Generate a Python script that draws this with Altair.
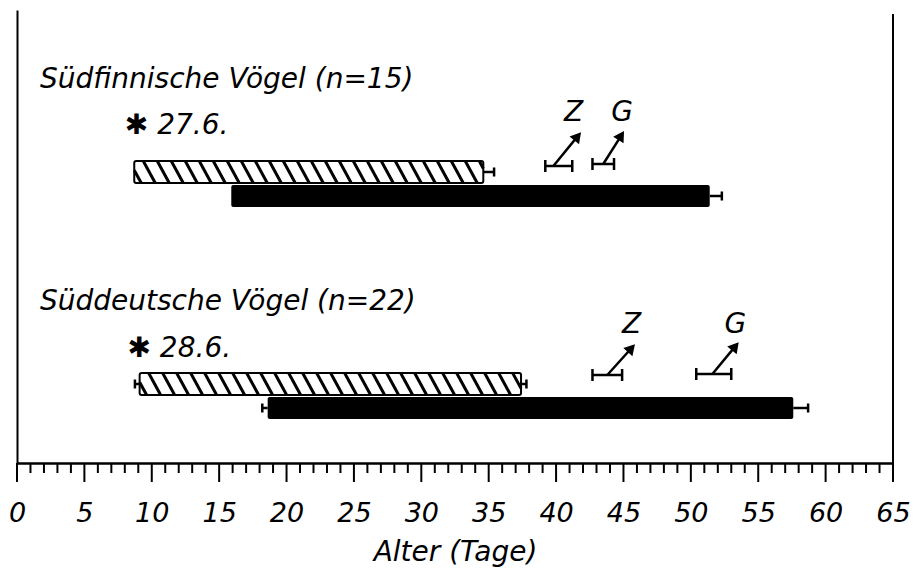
import math
import altair as alt
import pandas as pd
import numpy as np

# ---------------- data ----------------
group_titles = ["Südfinnische  Vögel (n=15)", "Süddeutsche  Vögel (n=22)"]
hatch_dates = ["✱ 27.6.", "✱ 28.6."]

hatch_start = [8.7, 9.1]
hatch_end = [34.6, 37.4]
hatch_err_lo = [8.7, 8.75]
hatch_err_hi = [35.4, 37.8]

black_start = [15.9, 18.6]
black_end = [51.4, 57.6]
black_err_lo = [15.9, 18.2]
black_err_hi = [52.3, 58.7]

z_lo = [39.2, 42.7]
z_hi = [41.2, 44.9]
g_lo = [42.7, 50.4]
g_hi = [44.3, 53.0]
z_base = [39.8, 43.8]
z_tip = [41.8, 45.8]
g_base = [43.5, 51.6]
g_tip = [45.0, 53.5]

# vertical rows (top = 0)
title_row = [7.0, 29.2]
date_row = [11.6, 33.9]
letter_row = [10.3, 31.5]
z_row = [15.6, 36.5]
g_row = [15.4, 36.4]
z_tip_row = [12.3, 33.5]
g_tip_row = [12.2, 33.3]
hatch_top = [15.1, 36.3]
hatch_bot = [17.3, 38.5]
black_top = [17.5, 38.7]
black_bot = [19.7, 40.9]

major_ticks = list(range(0, 66, 5))
all_ticks = list(range(0, 66))

W, H = 876, 453
XMAX, YMAX = 65, 45.3
PX_X = W / XMAX
PX_Y = H / YMAX

FONT = "DejaVu Sans"

xs = alt.Scale(domain=[0, XMAX], nice=False, zero=False)
ys = alt.Scale(domain=[0, YMAX], reverse=True, nice=False, zero=False)

xaxis = alt.Axis(
    values=major_ticks,
    labelOverlap=False,
    ticks=False,
    domainWidth=2.5, domainColor="black",
    labelFont=FONT, labelFontSize=27, labelFontStyle="italic", labelColor="black",
    labelPadding=37, labelFlush=False,
    title="Alter (Tage)", titleFont=FONT, titleFontSize=28, titleFontStyle="italic",
    titleFontWeight="normal", titleColor="black", titlePadding=12,
    grid=False,
)
yaxis = alt.Axis(domain=True, domainWidth=2, domainColor="black", ticks=False,
                 labels=False, title=None, grid=False)


def X(f):
    return alt.X(f, type="quantitative", scale=xs, axis=xaxis)


def Y(f):
    return alt.Y(f, type="quantitative", scale=ys, axis=yaxis)


# ---------------- tables ----------------
bars = pd.DataFrame({
    "x0": black_start, "x1": black_end, "y0": black_top, "y1": black_bot
})
hbars = pd.DataFrame({
    "x0": hatch_start, "x1": hatch_end, "y0": hatch_top, "y1": hatch_bot
})

# hatch lines (decoration inside the hatched bars)
hatch_rows = []
spacing = 14 / PX_X
for i in range(2):
    x0, x1 = hatch_start[i], hatch_end[i]
    yt, yb = hatch_top[i], hatch_bot[i]
    slant = 12 / PX_X
    xt = x0 - slant + spacing * 0.5
    while xt < x1:
        t0 = max(0.0, (x0 - xt) / slant)
        t1 = min(1.0, (x1 - xt) / slant)
        if t1 > t0:
            hatch_rows.append({
                "x": xt + slant * t0, "x2": xt + slant * t1,
                "y": yt + (yb - yt) * t0, "y2": yt + (yb - yt) * t1,
            })
        xt += spacing
hatch = pd.DataFrame(hatch_rows)

# horizontal error lines and caps
seg_rows = []
cap_rows = []
for i in range(2):
    ym_h = (hatch_top[i] + hatch_bot[i]) / 2
    ym_b = (black_top[i] + black_bot[i]) / 2
    for lo, hi, ym, edge_lo, edge_hi in [
        (hatch_err_lo[i], hatch_err_hi[i], ym_h, hatch_start[i], hatch_end[i]),
        (black_err_lo[i], black_err_hi[i], ym_b, black_start[i], black_end[i]),
    ]:
        if hi > edge_hi:
            seg_rows.append({"x": edge_hi, "x2": hi, "y": ym, "y2": ym})
            cap_rows.append({"x": hi, "y": ym - 0.45, "y2": ym + 0.45})
        if lo < edge_lo:
            seg_rows.append({"x": lo, "x2": edge_lo, "y": ym, "y2": ym})
            cap_rows.append({"x": lo, "y": ym - 0.45, "y2": ym + 0.45})
    for lo, hi, ym in [(z_lo[i], z_hi[i], z_row[i]), (g_lo[i], g_hi[i], g_row[i])]:
        seg_rows.append({"x": lo, "x2": hi, "y": ym, "y2": ym})
        cap_rows.append({"x": lo, "y": ym - 0.6, "y2": ym + 0.6})
        cap_rows.append({"x": hi, "y": ym - 0.6, "y2": ym + 0.6})
segs = pd.DataFrame(seg_rows)
caps = pd.DataFrame(cap_rows)

# arrows
arrow_rows = []
head_rows = []
for i in range(2):
    for bx, by, tx, ty in [
        (z_base[i], z_row[i], z_tip[i], z_tip_row[i]),
        (g_base[i], g_row[i], g_tip[i], g_tip_row[i]),
    ]:
        dx = (tx - bx) * PX_X
        dy = (by - ty) * PX_Y
        dist = math.hypot(dx, dy)
        ang = math.degrees(math.atan2(dx, dy))
        back = 6.0
        hx = tx - dx / dist * back / PX_X
        hy = ty + dy / dist * back / PX_Y
        arrow_rows.append({"x": bx, "x2": hx, "y": by, "y2": hy})
        head_rows.append({"x": hx, "y": hy, "angle": ang})
arrows = pd.DataFrame(arrow_rows)
heads = pd.DataFrame(head_rows)

texts = pd.DataFrame({
    "x": [1.7, 1.7, 8.0, 8.2, z_tip[0] - 0.5, g_tip[0] - 0.1, z_tip[1] - 0.2, g_tip[1] - 0.2],
    "y": title_row + date_row + [letter_row[0], letter_row[0], letter_row[1], letter_row[1]],
    "t": group_titles + hatch_dates + ["Z", "G", "Z", "G"],
    "align": ["left", "left", "left", "left", "center", "center", "center", "center"],
})

right_line = pd.DataFrame({"x": [XMAX], "y": [0.4], "y2": [YMAX]})

# axis ticks: long (19 px) every 5 days, short (10 px) every day
tick_len = [19 if v % 5 == 0 else 10 for v in all_ticks]
ticks = pd.DataFrame({"x": all_ticks, "y": [YMAX] * len(all_ticks),
                      "y2": [YMAX + t / PX_Y for t in tick_len]})

# ---------------- layers ----------------
base_black = alt.Chart(bars).mark_rect(color="black", cornerRadius=2).encode(
    x=X("x0"), x2="x1", y=Y("y0"), y2="y1",
)
hatch_fill = alt.Chart(hbars).mark_rect(fill="white").encode(
    x=X("x0"), x2="x1", y=Y("y0"), y2="y1",
)
hatch_lines = alt.Chart(hatch).mark_rule(color="black", strokeWidth=3, strokeCap="butt").encode(
    x=X("x"), x2="x2", y=Y("y"), y2="y2",
)
hatch_border = alt.Chart(hbars).mark_rect(fill=None, stroke="black", strokeWidth=2,
                                          cornerRadius=2).encode(
    x=X("x0"), x2="x1", y=Y("y0"), y2="y1",
)
seg_layer = alt.Chart(segs).mark_rule(color="black", strokeWidth=2.5).encode(
    x=X("x"), x2="x2", y=Y("y"), y2="y2",
)
cap_layer = alt.Chart(caps).mark_rule(color="black", strokeWidth=2.5).encode(
    x=X("x"), y=Y("y"), y2="y2",
)
arrow_layer = alt.Chart(arrows).mark_rule(color="black", strokeWidth=2.5).encode(
    x=X("x"), x2="x2", y=Y("y"), y2="y2",
)
head_layer = alt.Chart(heads).mark_point(shape="triangle", filled=True, color="black",
                                         opacity=1, size=150).encode(
    x=X("x"), y=Y("y"),
    angle=alt.Angle("angle:Q", scale=None),
)
text_left = alt.Chart(texts[texts["align"] == "left"]).mark_text(
    font=FONT, fontSize=28, fontStyle="italic", align="left", baseline="middle", color="black"
).encode(x=X("x"), y=Y("y"), text="t:N")
text_center = alt.Chart(texts[texts["align"] == "center"]).mark_text(
    font=FONT, fontSize=28, fontStyle="italic", align="center", baseline="middle", color="black"
).encode(x=X("x"), y=Y("y"), text="t:N")
right_layer = alt.Chart(right_line).mark_rule(color="black", strokeWidth=2).encode(
    x=X("x"), y=Y("y"), y2="y2",
)
tick_layer = alt.Chart(ticks).mark_rule(color="black", strokeWidth=2).encode(
    x=X("x"), y=Y("y"), y2="y2",
)

chart = alt.layer(
    base_black, hatch_fill, hatch_lines, hatch_border, seg_layer, cap_layer,
    arrow_layer, head_layer, text_left, text_center, right_layer, tick_layer,
).properties(
    width=W, height=H,
    padding={"left": 9, "top": 2, "right": 20, "bottom": 115},
    autosize=alt.AutoSizeParams(type="none"),
    background="white",
).configure_view(stroke=None)

chart.save("out.html", embed_options={"renderer": "svg", "actions": False})
